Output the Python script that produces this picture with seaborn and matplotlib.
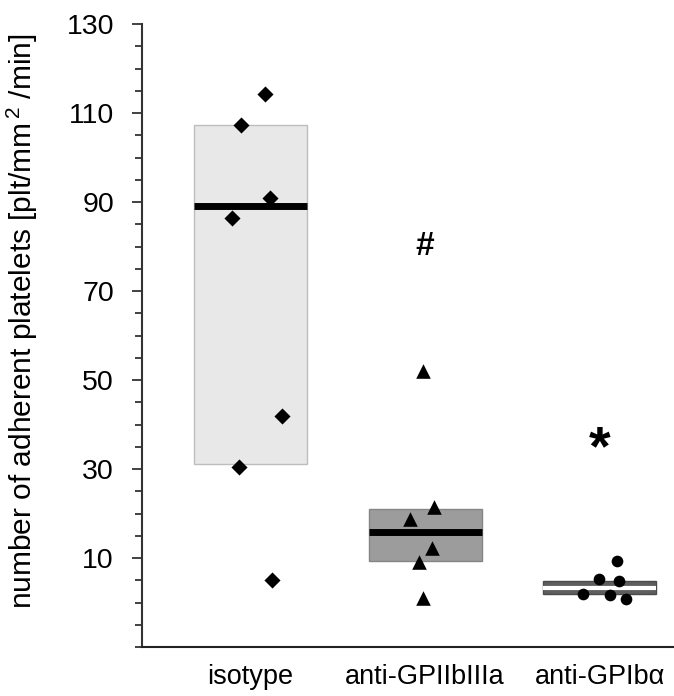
import numpy as np
import pandas as pd
import matplotlib
matplotlib.use("Agg")
import matplotlib.pyplot as plt
import seaborn as sns
from matplotlib.ticker import MultipleLocator, FixedLocator

# ---- data ----
groups = ["isotype", "anti-GPIIbIIIa", "anti-GPIb\u03b1"]
iso_vals = [114.3, 107.4, 91.0, 86.4, 42.0, 30.4, 5.1]
iib_vals = [52.1, 21.5, 18.7, 12.2, 9.2, 1.0]
gpib_vals = [9.3, 5.3, 4.8, 1.9, 1.7, 0.8]
# observed horizontal scatter of the points (category units)
iso_jit = [0.083, -0.054, 0.111, -0.106, 0.180, -0.066, 0.123]
iib_jit = [-0.013, 0.054, -0.089, 0.041, -0.035, -0.009]
gpib_jit = [0.097, -0.004, 0.110, -0.094, 0.057, 0.149]
box_low = [31.2, 9.4, 1.9]
box_high = [107.4, 20.9, 4.9]
box_mid = [89.2, 15.8, 3.3]
annot_text = ["", "#", "*"]
annot_y = [np.nan, 80.0, 34.3]
ytick_major = [10, 30, 50, 70, 90, 110, 130]

sns.set_theme(style="ticks")
plt.rcParams["font.family"] = ["Liberation Sans", "DejaVu Sans"]
plt.rcParams["mathtext.default"] = "regular"
for k in ["text.color", "axes.labelcolor", "xtick.color", "ytick.color"]:
    plt.rcParams[k] = "black"

rows = []
for gi, (vals, jit) in enumerate([(iso_vals, iso_jit), (iib_vals, iib_jit), (gpib_vals, gpib_jit)]):
    for v, j in zip(vals, jit):
        rows.append({"group": groups[gi], "value": v, "xpos": gi + j})
df = pd.DataFrame(rows)

fig = plt.figure(figsize=(6.74, 6.96), dpi=100)
ax = fig.add_axes([142 / 674, 49 / 696, 1 - 142 / 674, (672 - 49) / 696])

box_fill = ["#e8e8e8", "#9c9c9c", "#5e5e5e"]
box_edge = ["#bdbdbd", "#858585", "#4a4a4a"]
mid_col = ["black", "black", "white"]
mid_lw = [5, 5, 3]
bw = 0.647
xs = np.arange(len(groups))
ax.bar(xs, np.array(box_high) - np.array(box_low), bottom=box_low, width=bw,
       color=box_fill, edgecolor=box_edge, linewidth=1, zorder=1)
for i in range(len(groups)):
    ax.hlines(box_mid[i], xs[i] - bw / 2, xs[i] + bw / 2, color=mid_col[i],
              linewidth=mid_lw[i], zorder=2)

markers = {groups[0]: "D", groups[1]: "^", groups[2]: "o"}
sizes = {groups[0]: 8.2 ** 2, groups[1]: 10.5 ** 2, groups[2]: 8.4 ** 2}
for g in groups:
    sub = df[df.group == g]
    sns.scatterplot(data=sub, x="xpos", y="value", marker=markers[g], s=sizes[g],
                    color="black", edgecolor="black", linewidth=0, ax=ax, zorder=3,
                    legend=False)

for i, t in enumerate(annot_text):
    if t == "#":
        ax.text(xs[i], annot_y[i], t, ha="center", va="center", fontsize=24,
                fontweight="bold", color="black")
    elif t == "*":
        ax.text(xs[i], annot_y[i], t, ha="center", va="center", fontsize=40,
                fontweight="bold", color="black")

ax.set_xlim(-0.621, 2.4255)
ax.set_ylim(-10, 130)
ax.set_xticks(xs)
ax.set_xticklabels(groups, fontsize=19.5)
ax.tick_params(axis="x", length=0, pad=12)
ax.yaxis.set_major_locator(FixedLocator(ytick_major))
ax.yaxis.set_minor_locator(MultipleLocator(5))
ax.tick_params(axis="y", which="major", length=7.2, width=1.3, labelsize=20.5, pad=13,
               color="#333333")
ax.tick_params(axis="y", which="minor", length=5, width=1.3, color="#333333")
ax.set_xlabel("")
ax.set_ylabel("number of adherent platelets [plt/mm$^{\\,2}$ /min]", fontsize=21.5)
ax.yaxis.set_label_coords(-0.192, 0.523)

for s in ["top", "right"]:
    ax.spines[s].set_visible(False)
ax.spines["left"].set_linewidth(1.5)
ax.spines["left"].set_color("#333333")
ax.spines["bottom"].set_linewidth(1.5)
ax.spines["bottom"].set_color("#222222")

fig.savefig("out.png", dpi=100)
